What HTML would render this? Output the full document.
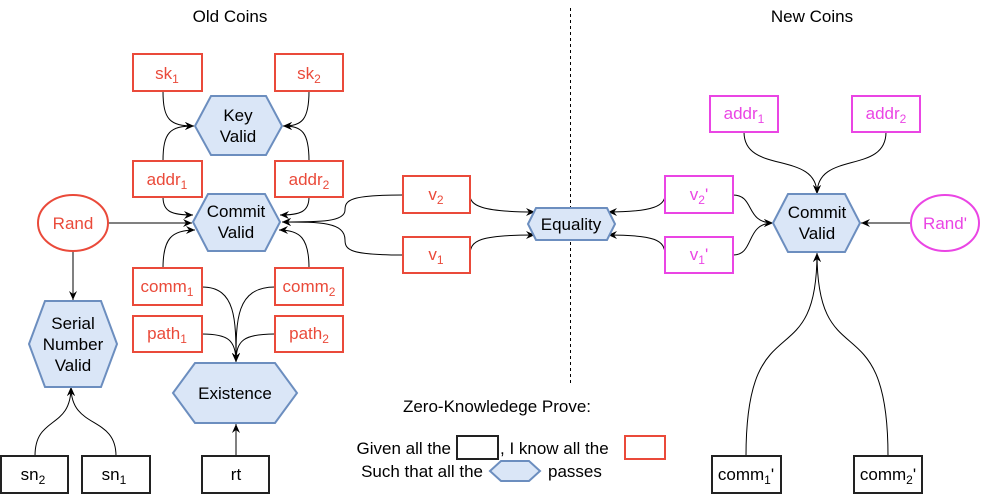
<!DOCTYPE html>
<html><head><meta charset="utf-8"><style>
html,body{margin:0;padding:0;background:#fff;}
svg{display:block;}
text{font-family:"Liberation Sans",Arial,sans-serif;font-size:17px;}
.r rect,.r ellipse{fill:#fff;stroke:#ea4a3a;stroke-width:2;}
.r text{fill:#ea4a3a;}
.m rect,.m ellipse{fill:#fff;stroke:#ea45e4;stroke-width:2;}
.m text{fill:#ea45e4;}
.k rect{fill:#fff;stroke:#222;stroke-width:2;}
.k text{fill:#000;}
.h polygon{fill:#dae6f7;stroke:#6c8ebf;stroke-width:2;}
.h text{fill:#000;}
.c path,.c line{fill:none;stroke:#000;stroke-width:1;}
tspan.s{font-size:12px;}
</style></head><body>
<svg width="982" height="494" viewBox="0 0 982 494" xmlns="http://www.w3.org/2000/svg">
<defs><marker id="a" markerWidth="10" markerHeight="10" refX="9" refY="5" orient="auto" markerUnits="userSpaceOnUse"><path d="M0,1 L9,5 L0,9 L3,5 Z" fill="#000"/></marker></defs>
<text x="230" y="22" text-anchor="middle">Old Coins</text>
<text x="812" y="22" text-anchor="middle">New Coins</text>
<line x1="570.5" y1="8" x2="570.5" y2="386" stroke="#000" stroke-dasharray="3,3"/>

<g class="c">
<path d="M163,91 C163,120 170,126 194,126" marker-end="url(#a)"/>
<path d="M163,161 C163,132 170,126 194,126" marker-end="url(#a)"/>
<path d="M309,91 C309,120 302,126 283,126" marker-end="url(#a)"/>
<path d="M309,161 C309,132 302,126 283,126" marker-end="url(#a)"/>
<path d="M163,197 C163,212 172,215 193,215" marker-end="url(#a)"/>
<path d="M163,268 C163,238 172,230 195,230" marker-end="url(#a)"/>
<path d="M309,197 C309,212 300,215 280,215" marker-end="url(#a)"/>
<path d="M309,268 C309,238 300,230 279,230" marker-end="url(#a)"/>
<path d="M108,223 L192,223" marker-end="url(#a)"/>
<path d="M403,195 C350,195 345,200 345,210 C345,222 320,222 282,222" marker-end="url(#a)"/>
<path d="M403,255 C350,255 345,250 345,240 C345,222 320,222 282,222" marker-end="url(#a)"/>
<path d="M470,195 C470,205 480,212 535,212" marker-end="url(#a)"/>
<path d="M470,255 C470,240 480,235 535,235" marker-end="url(#a)"/>
<path d="M665,195 C665,205 655,212 608,212" marker-end="url(#a)"/>
<path d="M665,255 C665,240 655,235 608,235" marker-end="url(#a)"/>
<path d="M733,195 C755,195 745,223 773,223" marker-end="url(#a)"/>
<path d="M733,255 C755,255 745,223 773,223" marker-end="url(#a)"/>
<path d="M744,132 C744,175 817,150 817,194" marker-end="url(#a)"/>
<path d="M886,132 C886,175 817,150 817,194" marker-end="url(#a)"/>
<path d="M911,223 L861,223" marker-end="url(#a)"/>
<path d="M746,456 C746,300 817,380 817,253" marker-end="url(#a)"/>
<path d="M888,456 C888,300 817,380 817,253" marker-end="url(#a)"/>
<path d="M73,251 L73,300" marker-end="url(#a)"/>
<path d="M35,456 C35,415 71,430 71,387" marker-end="url(#a)"/>
<path d="M116,456 C116,415 71,430 71,387" marker-end="url(#a)"/>
<path d="M202,287 C236,287 236,320 236,362" marker-end="url(#a)"/>
<path d="M275,287 C236,287 236,320 236,362" marker-end="url(#a)"/>
<path d="M202,334 C228,334 236,340 236,362" marker-end="url(#a)"/>
<path d="M275,334 C244,334 236,340 236,362" marker-end="url(#a)"/>
<path d="M236,456 L236,424" marker-end="url(#a)"/>
</g>

<g class="r">
<rect x="133" y="54" width="69" height="37"/><text x="167" y="79" text-anchor="middle">sk<tspan class="s" dy="4">1</tspan></text>
<rect x="275" y="54" width="68" height="37"/><text x="309" y="79" text-anchor="middle">sk<tspan class="s" dy="4">2</tspan></text>
<rect x="133" y="161" width="69" height="36"/><text x="167" y="185" text-anchor="middle">addr<tspan class="s" dy="4">1</tspan></text>
<rect x="275" y="161" width="68" height="36"/><text x="309" y="185" text-anchor="middle">addr<tspan class="s" dy="4">2</tspan></text>
<rect x="133" y="268" width="69" height="37"/><text x="167" y="292" text-anchor="middle">comm<tspan class="s" dy="4">1</tspan></text>
<rect x="275" y="268" width="68" height="37"/><text x="309" y="292" text-anchor="middle">comm<tspan class="s" dy="4">2</tspan></text>
<rect x="133" y="316" width="69" height="36"/><text x="167" y="339" text-anchor="middle">path<tspan class="s" dy="4">1</tspan></text>
<rect x="275" y="316" width="68" height="36"/><text x="309" y="339" text-anchor="middle">path<tspan class="s" dy="4">2</tspan></text>
<rect x="403" y="176" width="67" height="37"/><text x="436" y="200" text-anchor="middle">v<tspan class="s" dy="4">2</tspan></text>
<rect x="403" y="237" width="67" height="36"/><text x="436" y="260" text-anchor="middle">v<tspan class="s" dy="4">1</tspan></text>
<ellipse cx="73" cy="223" rx="35" ry="28"/><text x="73" y="229" text-anchor="middle">Rand</text>
<rect x="625" y="436" width="40" height="23"/>
</g>
<g class="m">
<rect x="710" y="96" width="68" height="36"/><text x="744" y="119" text-anchor="middle">addr<tspan class="s" dy="4">1</tspan></text>
<rect x="852" y="96" width="68" height="36"/><text x="886" y="119" text-anchor="middle">addr<tspan class="s" dy="4">2</tspan></text>
<rect x="665" y="176" width="68" height="37"/><text x="699" y="200" text-anchor="middle">v<tspan class="s" dy="4">2</tspan><tspan dy="-4">'</tspan></text>
<rect x="665" y="237" width="68" height="36"/><text x="699" y="260" text-anchor="middle">v<tspan class="s" dy="4">1</tspan><tspan dy="-4">'</tspan></text>
<ellipse cx="945" cy="223" rx="34" ry="28"/><text x="945" y="229" text-anchor="middle">Rand'</text>
</g>
<g class="k">
<rect x="1" y="456" width="67" height="37"/><text x="33" y="480" text-anchor="middle">sn<tspan class="s" dy="4">2</tspan></text>
<rect x="82" y="456" width="68" height="37"/><text x="114" y="480" text-anchor="middle">sn<tspan class="s" dy="4">1</tspan></text>
<rect x="202" y="456" width="67" height="37"/><text x="236" y="480" text-anchor="middle">rt</text>
<rect x="712" y="456" width="69" height="37"/><text x="746" y="480" text-anchor="middle">comm<tspan class="s" dy="4">1</tspan><tspan dy="-4">'</tspan></text>
<rect x="854" y="456" width="68" height="37"/><text x="888" y="480" text-anchor="middle">comm<tspan class="s" dy="4">2</tspan><tspan dy="-4">'</tspan></text>
<rect x="457" y="436" width="41" height="23"/>
</g>
<g class="h">
<polygon points="195,126 211,96 266,96 282,126 266,155 211,155"/><text x="238" y="121" text-anchor="middle">Key</text><text x="238" y="142" text-anchor="middle">Valid</text>
<polygon points="193,222 208,194 265,194 280,222 265,251 208,251"/><text x="236" y="217" text-anchor="middle">Commit</text><text x="236" y="238" text-anchor="middle">Valid</text>
<polygon points="528,224 536,208 607,208 615,224 607,240 536,240"/><text x="571" y="230" text-anchor="middle">Equality</text>
<polygon points="773,223 788,194 845,194 860,223 845,252 788,252"/><text x="817" y="218" text-anchor="middle">Commit</text><text x="817" y="239" text-anchor="middle">Valid</text>
<polygon points="29,344 45,301 101,301 117,344 101,387 45,387"/><text x="73" y="329" text-anchor="middle">Serial</text><text x="73" y="350" text-anchor="middle">Number</text><text x="73" y="371" text-anchor="middle">Valid</text>
<polygon points="173,393 195,363 275,363 297,393 275,423 195,423"/><text x="235" y="399" text-anchor="middle">Existence</text>
<polygon points="490,471 501,461 529,461 540,471 529,481 501,481"/>
</g>
<text x="497" y="412" text-anchor="middle">Zero-Knowledege Prove:</text>
<text x="451" y="454" text-anchor="end">Given all the</text>
<text x="500" y="454">, I know all the</text>
<text x="483" y="477" text-anchor="end">Such that all the</text>
<text x="548" y="477">passes</text>
</svg>
</body></html>
